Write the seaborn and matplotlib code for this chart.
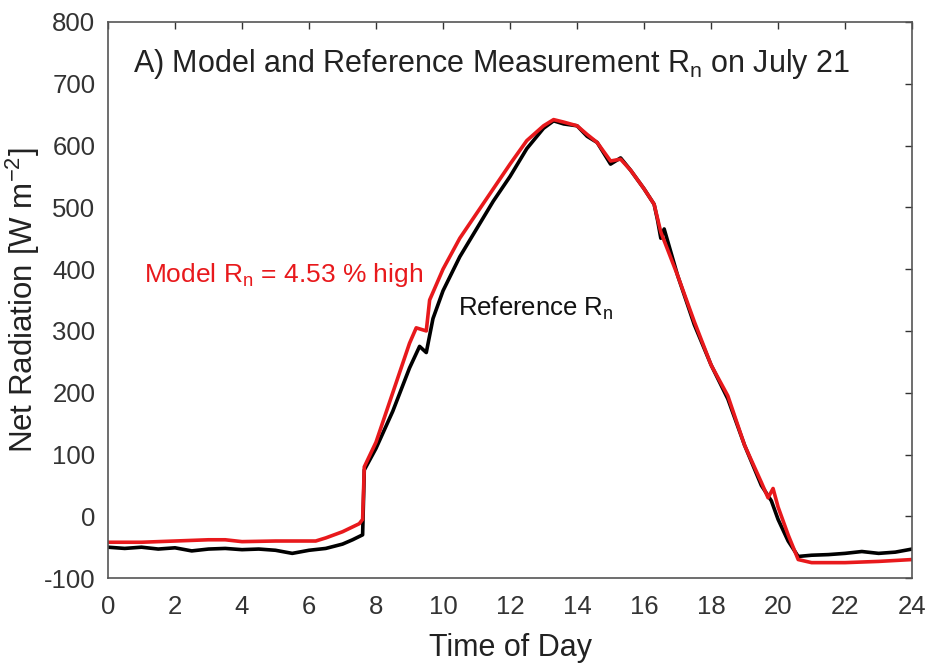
import matplotlib
matplotlib.use("Agg")
import matplotlib.pyplot as plt
import seaborn as sns
import pandas as pd

ref_hours = [0, 0.5, 1, 1.5, 2, 2.5, 3, 3.5, 4, 4.5, 5, 5.5, 6, 6.5, 7, 7.3, 7.6, 7.65, 7.8, 8,
             8.5, 9, 9.3, 9.5, 9.7, 10, 10.5, 11, 11.5, 12, 12.5, 13, 13.3, 13.6, 14, 14.3, 14.6,
             15, 15.3, 15.6, 16, 16.3, 16.4, 16.5, 16.6, 17, 17.5, 18, 18.5, 19, 19.5, 19.8, 20,
             20.3, 20.6, 21, 21.5, 22, 22.5, 23, 23.5, 24]
ref_values = [-50, -52, -50, -53, -51, -56, -53, -52, -54, -53, -55, -60, -55, -52, -45, -38, -30, 75, 90, 110,
              170, 240, 275, 265, 320, 365, 420, 465, 510, 550, 595, 628, 640, 635, 632, 615, 605,
              570, 580, 560, 530, 505, 480, 450, 465, 390, 310, 245, 190, 115, 50, 25, -5,
              -40, -65, -63, -62, -60, -57, -60, -58, -53]

model_hours = [0, 1, 2, 3, 3.5, 4, 5, 6, 6.2, 6.5, 7, 7.5, 7.6, 7.65, 8, 8.5, 9, 9.2, 9.5, 9.6,
               10, 10.5, 11, 11.5, 12, 12.5, 13, 13.3, 13.6, 14, 14.3, 14.6, 15, 15.3, 15.6, 16,
               16.3, 16.5, 17, 17.5, 18, 18.5, 19, 19.5, 19.7, 19.85, 20, 20.3, 20.6, 21, 22, 23, 24]
model_values = [-42, -42, -40, -38, -38, -41, -40, -40, -40, -35, -25, -12, -5, 80, 120, 200, 280, 305, 300, 350,
                400, 450, 490, 530, 570, 608, 632, 642, 638, 632, 618, 605, 575, 578, 560, 530,
                505, 460, 390, 315, 245, 195, 115, 55, 30, 45, 15, -30, -70, -75, -75, -73, -70]

x_ticks = list(range(0, 25, 2))
y_ticks = list(range(-100, 801, 100))

sns.set_theme(style="white")
plt.rcParams['font.family'] = ['Liberation Sans', 'DejaVu Sans']
plt.rcParams['axes.unicode_minus'] = False

fig = plt.figure(figsize=(9.26, 6.66), dpi=100)
ax = fig.add_axes([0.1166, 0.132, 0.8684, 0.835])

ref_df = pd.DataFrame({"hour": ref_hours, "value": ref_values})
mod_df = pd.DataFrame({"hour": model_hours, "value": model_values})
sns.lineplot(data=ref_df, x="hour", y="value", color="black", linewidth=2.6, sort=False, ax=ax)
sns.lineplot(data=mod_df, x="hour", y="value", color="#e8191c", linewidth=2.6, sort=False, ax=ax)

ax.set_xlim(0, 24)
ax.set_ylim(-100, 800)
ax.set_xticks(x_ticks)
ax.set_yticks(y_ticks)
ax.tick_params(direction="in", top=True, right=True, length=5, width=1, labelsize=18.5,
               colors="#333333")
ax.tick_params(axis="x", pad=12)
ax.tick_params(axis="y", pad=9)
for s in ax.spines.values():
    s.set_color("#555555")
    s.set_linewidth(1.2)

ax.set_xlabel("Time of Day", fontsize=22, color="#222222", labelpad=10)
ax.set_ylabel(r"Net Radiation [W m$^{\mathregular{-2}}$]", fontsize=22.5, color="#222222", labelpad=1)

ax.text(0.031, 0.925, r"A) Model and Reference Measurement R$_\mathregular{n}$ on July 21",
        transform=ax.transAxes, fontsize=22, color="#222222", va="center", ha="left")
ax.text(0.045, 0.545, r"Model R$_\mathregular{n}$ = 4.53 % high", transform=ax.transAxes,
        fontsize=19, color="#e8191c", va="center", ha="left")
ax.text(0.435, 0.485, r"Reference R$_\mathregular{n}$", transform=ax.transAxes,
        fontsize=18.5, color="#111111", va="center", ha="left")

fig.savefig("out.png", dpi=100)
